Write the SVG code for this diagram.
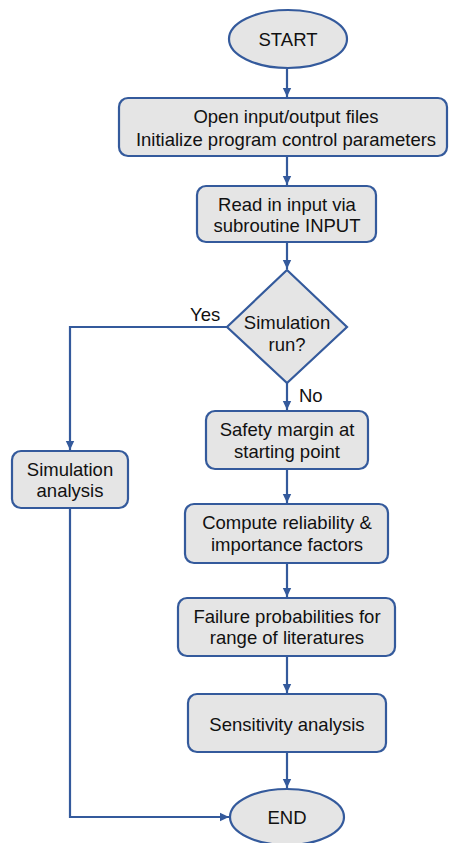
<svg xmlns="http://www.w3.org/2000/svg" width="449" height="843" viewBox="0 0 449 843">
<style>
.n{fill:#e5e5e5;stroke:#345a9c;stroke-width:2.2}
.t{font-family:"Liberation Sans",Arial,sans-serif;font-size:18.5px;fill:#111;text-anchor:middle}
.l{font-family:"Liberation Sans",Arial,sans-serif;font-size:18.5px;fill:#111}
.c{fill:none;stroke:#345a9c;stroke-width:2.2}
</style>
<defs>
<marker id="ah" markerWidth="10" markerHeight="10" refX="9" refY="5" orient="auto" markerUnits="userSpaceOnUse">
<path d="M0,0.8 L9,5 L0,9.2 Z" fill="#345a9c"/>
</marker>
</defs>
<rect width="449" height="843" fill="#fff"/>
<g id="connectors">
<path class="c" d="M287,69 V97" marker-end="url(#ah)"/>
<path class="c" d="M287,156 V185" marker-end="url(#ah)"/>
<path class="c" d="M287,242 V269" marker-end="url(#ah)"/>
<path class="c" d="M287,383 V410" marker-end="url(#ah)"/>
<path class="c" d="M227,327 H70 V450" marker-end="url(#ah)"/>
<path class="c" d="M287,469 V503" marker-end="url(#ah)"/>
<path class="c" d="M287,563 V597" marker-end="url(#ah)"/>
<path class="c" d="M287,656 V693" marker-end="url(#ah)"/>
<path class="c" d="M287,752 V788" marker-end="url(#ah)"/>
<path class="c" d="M70,508 V817 H229" marker-end="url(#ah)"/>
<text class="l" x="190" y="321">Yes</text>
<text class="l" x="299" y="402">No</text>
</g>
<g id="start">
<ellipse class="n" cx="288" cy="39" rx="59" ry="29"/>
<text class="t" x="288" y="46">START</text>
</g>
<g id="open">
<rect class="n" x="119" y="98" width="328" height="58" rx="9"/>
<text class="t" x="286" y="123">Open input/output files</text>
<text class="t" x="286" y="146">Initialize program control parameters</text>
</g>
<g id="read">
<rect class="n" x="197" y="186" width="179" height="56" rx="9"/>
<text class="t" x="287" y="211">Read in input via</text>
<text class="t" x="287" y="232">subroutine INPUT</text>
</g>
<g id="decision">
<polygon class="n" points="287,270 347,327 287,383 227,327"/>
<text class="t" x="287" y="329">Simulation</text>
<text class="t" x="287" y="351">run?</text>
</g>
<g id="simanalysis">
<rect class="n" x="12" y="451" width="116" height="57" rx="9"/>
<text class="t" x="70" y="476">Simulation</text>
<text class="t" x="70" y="497">analysis</text>
</g>
<g id="safety">
<rect class="n" x="206" y="411" width="162" height="58" rx="9"/>
<text class="t" x="287" y="436">Safety margin at</text>
<text class="t" x="287" y="458">starting point</text>
</g>
<g id="compute">
<rect class="n" x="185" y="504" width="203" height="59" rx="9"/>
<text class="t" x="287" y="529">Compute reliability &amp;</text>
<text class="t" x="287" y="551">importance factors</text>
</g>
<g id="failure">
<rect class="n" x="178" y="598" width="217" height="58" rx="9"/>
<text class="t" x="287" y="623">Failure probabilities for</text>
<text class="t" x="287" y="644">range of literatures</text>
</g>
<g id="sensitivity">
<rect class="n" x="188" y="694" width="198" height="58" rx="9"/>
<text class="t" x="287" y="731">Sensitivity analysis</text>
</g>
<g id="end">
<ellipse class="n" cx="287" cy="817" rx="57" ry="28"/>
<text class="t" x="287" y="824">END</text>
</g>
</svg>
